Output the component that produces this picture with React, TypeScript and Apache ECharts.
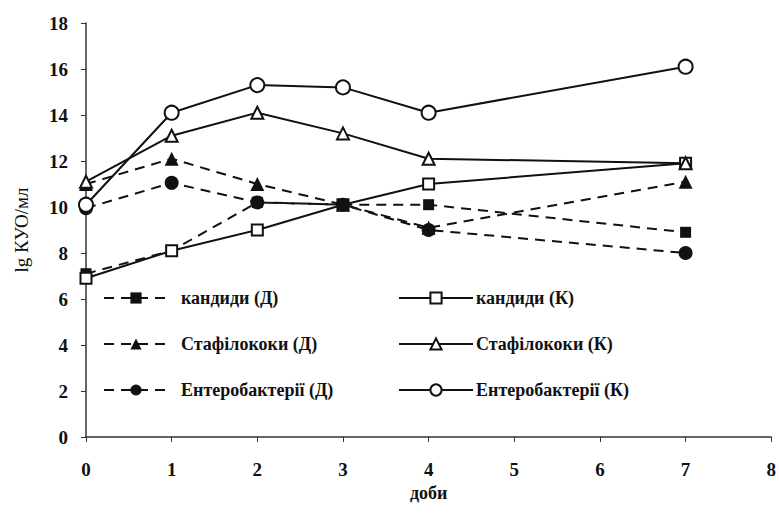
import React, { useEffect, useRef } from "react";
import * as echarts from "echarts";

const days = [0, 1, 2, 3, 4, 7];
const candidaD = [7.1, 8.1, 10.2, 10.1, 10.1, 8.9];
const candidaK = [6.9, 8.1, 9.0, 10.1, 11.0, 11.9];
const staphD = [11.0, 12.1, 11.0, 10.1, 9.1, 11.1];
const staphK = [11.1, 13.1, 14.1, 13.2, 12.1, 11.9];
const enteroD = [9.95, 11.05, 10.2, 10.1, 9.0, 8.0];
const enteroK = [10.1, 14.1, 15.3, 15.2, 14.1, 16.1];

const names = {
  candidaD: "кандиди (Д)",
  candidaK: "кандиди (К)",
  staphD: "Стафілококи (Д)",
  staphK: "Стафілококи (К)",
  enteroD: "Ентеробактерії (Д)",
  enteroK: "Ентеробактерії (К)",
};

const FONT = "Liberation Serif";
const INK = "#111";

function pairs(vals: number[]) {
  return days.map((d, i) => [d, vals[i]]);
}

function mkSeries(name: string, vals: number[], dashed: boolean, symbol: string, size: number) {
  return {
    name,
    type: "line",
    data: pairs(vals),
    symbol,
    symbolSize: size,
    lineStyle: { color: INK, width: 2, type: dashed ? [10, 7] : "solid" },
    itemStyle: { color: INK, borderColor: INK, borderWidth: symbol.startsWith("empty") ? 2 : 0 },
    emphasis: { disabled: true },
  };
}

export default function App() {
  const ref = useRef<HTMLDivElement>(null);
  useEffect(() => {
    if (!ref.current) return;
    const chart = echarts.init(ref.current, null, { renderer: "svg" });
    const legendText = { fontFamily: FONT, fontSize: 18, fontWeight: "bold", color: INK, lineHeight: 18 };
    chart.setOption({
      animation: false,
      backgroundColor: "#fff",
      grid: { left: 86, right: 3, top: 23, bottom: 81, containLabel: false },
      legend: [
        {
          orient: "vertical",
          left: 103,
          top: 289,
          padding: 0,
          itemWidth: 64,
          itemHeight: 14,
          itemGap: 28,
          textStyle: { ...legendText, padding: [0, 0, 0, 8] },
          data: [names.candidaD, names.staphD, names.enteroD],
          selectedMode: false,
        },
        {
          orient: "vertical",
          left: 398,
          top: 289,
          padding: 0,
          itemWidth: 74,
          itemHeight: 14,
          itemGap: 28,
          textStyle: { ...legendText, padding: [0, 0, 0, -2] },
          data: [names.candidaK, names.staphK, names.enteroK],
          selectedMode: false,
        },
      ],
      xAxis: {
        type: "value",
        min: 0,
        max: 8,
        interval: 1,
        name: "доби",
        nameLocation: "middle",
        nameGap: 46,
        nameTextStyle: { fontFamily: FONT, fontSize: 18, fontWeight: "bold", color: INK },
        axisLine: { lineStyle: { color: "#333", width: 1.5 } },
        axisTick: { show: true, inside: false, length: 5, lineStyle: { color: "#333" } },
        axisLabel: { fontFamily: FONT, fontSize: 19, fontWeight: "bold", color: INK, margin: 23 },
        splitLine: { show: false },
      },
      yAxis: {
        type: "value",
        min: 0,
        max: 18,
        interval: 2,
        name: "lg КУО/мл",
        nameLocation: "middle",
        nameRotate: 90,
        nameGap: 55,
        nameTextStyle: { fontFamily: FONT, fontSize: 19, color: INK },
        axisLine: { show: true, lineStyle: { color: "#333", width: 1.5 } },
        axisTick: { show: true, inside: false, length: 5, lineStyle: { color: "#333" } },
        axisLabel: { fontFamily: FONT, fontSize: 19, fontWeight: "bold", color: INK, margin: 18 },
        splitLine: { show: false },
      },
      series: [
        mkSeries(names.candidaD, candidaD, true, "rect", 11),
        mkSeries(names.candidaK, candidaK, false, "emptyRect", 11),
        mkSeries(names.staphD, staphD, true, "triangle", 14),
        mkSeries(names.staphK, staphK, false, "emptyTriangle", 12),
        mkSeries(names.enteroD, enteroD, true, "circle", 14),
        mkSeries(names.enteroK, enteroK, false, "emptyCircle", 14),
      ],
    });
    return () => chart.dispose();
  }, []);
  return <div ref={ref} style={{ width: 779, height: 518, position: "absolute", left: 0, top: 0 }} />;
}
